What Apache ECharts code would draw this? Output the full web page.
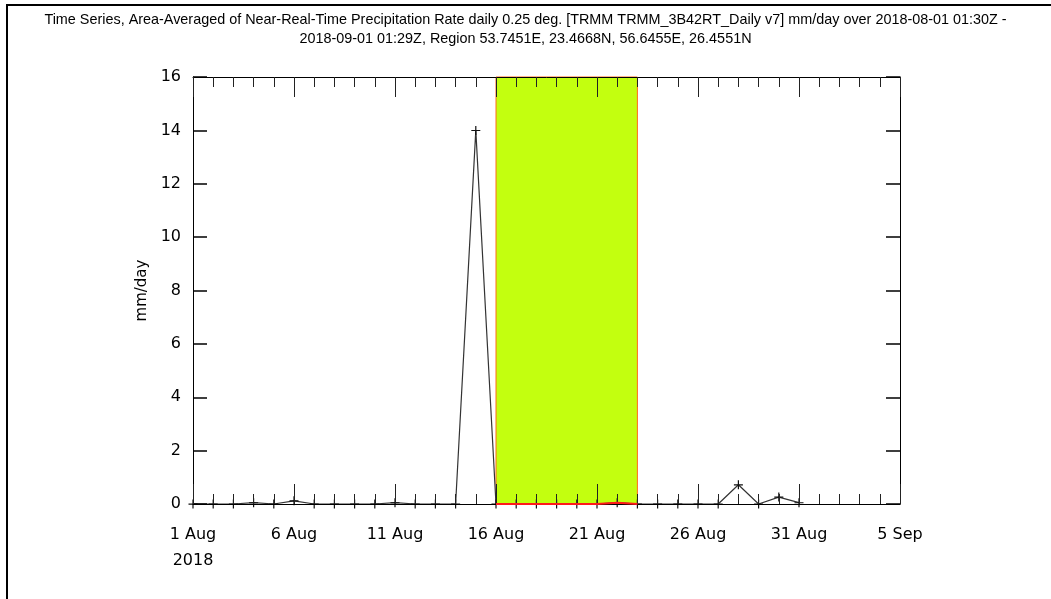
<!DOCTYPE html>
<html>
<head>
<meta charset="utf-8">
<script src="https://cdn.jsdelivr.net/npm/echarts@6/dist/echarts.min.js"></script>
<style>
html,body{margin:0;padding:0;background:#fff;}
#c{width:1051px;height:599px;}
</style>
</head>
<body>
<div id="c"></div>
<script>
const titleText = 'Time Series, Area-Averaged of Near-Real-Time Precipitation Rate daily 0.25 deg. [TRMM TRMM_3B42RT_Daily v7] mm/day over 2018-08-01 01:30Z -\n2018-09-01 01:29Z, Region 53.7451E, 23.4668N, 56.6455E, 26.4551N';
const yAxisName = 'mm/day';
const dates = ['2018-08-01','2018-08-02','2018-08-03','2018-08-04','2018-08-05','2018-08-06','2018-08-07','2018-08-08','2018-08-09','2018-08-10','2018-08-11','2018-08-12','2018-08-13','2018-08-14','2018-08-15','2018-08-16','2018-08-17','2018-08-18','2018-08-19','2018-08-20','2018-08-21','2018-08-22','2018-08-23','2018-08-24','2018-08-25','2018-08-26','2018-08-27','2018-08-28','2018-08-29','2018-08-30','2018-08-31'];
const values = [0,0,0,0.05,0,0.12,0,0,0,0,0.05,0,0,0,14.0,0,0,0,0,0,0,0.05,0,0,0,0,0,0.72,0,0.26,0.05];
const axisStart = '2018-08-01';
const axisEnd = '2018-09-05';
const highlightStart = '2018-08-16';
const highlightEnd = '2018-08-23';
const monthNames = ['Jan','Feb','Mar','Apr','May','Jun','Jul','Aug','Sep','Oct','Nov','Dec'];
const yTicks = [0,2,4,6,8,10,12,14,16];

const DAY = 86400000;
const t0 = Date.parse(axisStart + 'T00:00:00Z');
const dayOf = d => Math.round((Date.parse(d + 'T00:00:00Z') - t0) / DAY);
const pts = dates.map((d, i) => [dayOf(d), values[i]]);
const hs = dayOf(highlightStart), he = dayOf(highlightEnd);
const redPts = pts.filter(p => p[0] >= hs && p[0] <= he);

function fmt(v){
  const dt = new Date(t0 + v * DAY);
  let s = dt.getUTCDate() + ' ' + monthNames[dt.getUTCMonth()];
  if (v === 0) s += '\n' + dt.getUTCFullYear();
  return s;
}

const labelFont = "'DejaVu Sans',sans-serif";
const chart = echarts.init(document.getElementById('c'));
const xBase = {
  type: 'value', min: 0, max: dayOf(axisEnd), interval: 5, z: 5,
  axisLine: {show: true, onZero: false, lineStyle: {color: '#000', width: 1}},
  axisTick: {show: true, inside: true, length: 20, lineStyle: {color: '#222', width: 1}},
  minorTick: {show: true, splitNumber: 5, length: 10, lineStyle: {color: '#222', width: 1}},
  splitLine: {show: false}, minorSplitLine: {show: false}
};
const yBase = {
  type: 'value', min: yTicks[0], max: yTicks[yTicks.length-1], interval: yTicks[1]-yTicks[0], z: 5,
  axisLine: {show: true, onZero: false, lineStyle: {color: '#000', width: 1}},
  axisTick: {show: true, inside: true, length: 14, lineStyle: {color: '#000', width: 1.5}},
  splitLine: {show: false}
};
chart.setOption({
  animation: false,
  backgroundColor: '#fff',
  title: {
    text: titleText, left: 'center', top: 6,
    textStyle: {fontFamily: "'Liberation Sans',Arial,sans-serif", fontSize: 14.4, fontWeight: 'normal', color: '#000', lineHeight: 19}
  },
  grid: {left: 193, right: 151, top: 77, bottom: 95},
  xAxis: [
    Object.assign({}, xBase, {position: 'bottom',
      axisLabel: {show: true, formatter: fmt, margin: 18, color: '#000', fontSize: 16, fontFamily: labelFont, lineHeight: 26, verticalAlign: 'top'}}),
    Object.assign({}, xBase, {position: 'top', axisLabel: {show: false}})
  ],
  yAxis: [
    Object.assign({}, yBase, {position: 'left', name: yAxisName, nameLocation: 'middle', nameGap: 37,
      nameTextStyle: {fontSize: 15, color: '#000', fontFamily: "'DejaVu Sans',sans-serif"},
      axisLabel: {show: true, margin: 12, color: '#000', fontSize: 16, fontFamily: labelFont}}),
    Object.assign({}, yBase, {position: 'right', axisLabel: {show: false}})
  ],
  graphic: [{
    type: 'polyline', silent: true,
    shape: {points: [[7, 599], [7, 5], [1051, 5]]},
    style: {stroke: '#000', lineWidth: 2, fill: null}
  }],
  series: [
    {
      type: 'line', data: pts, xAxisIndex: 0, yAxisIndex: 0, z: 2,
      symbol: 'path://M0,4h9v1.2h-9z M3.9,0h1.2v9h-1.2z', symbolSize: 9,
      itemStyle: {color: '#111'},
      lineStyle: {color: '#333', width: 1.2},
      markArea: {
        silent: true,
        itemStyle: {color: '#c3ff0f', borderColor: '#ff6a1a', borderWidth: 1},
        data: [[{xAxis: hs}, {xAxis: he}]]
      }
    },
    {
      type: 'line', data: redPts, z: 6, symbol: 'none',
      lineStyle: {color: '#ff1a1a', width: 2}
    }
  ]
});
</script>
</body>
</html>
